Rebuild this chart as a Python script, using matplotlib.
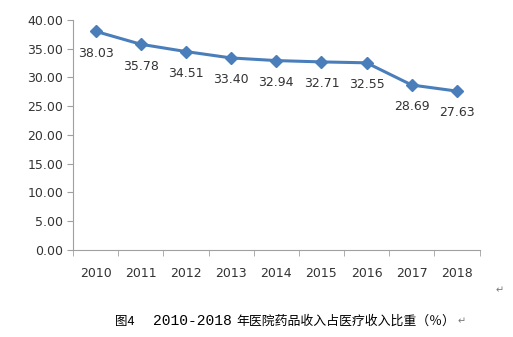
import matplotlib
matplotlib.use("Agg")
import matplotlib.pyplot as plt
from matplotlib.ticker import FixedLocator, NullFormatter

plt.rcParams['font.family'] = ['DejaVu Sans']

years = ["2010", "2011", "2012", "2013", "2014", "2015", "2016", "2017", "2018"]
ratio = [38.03, 35.78, 34.51, 33.40, 32.94, 32.71, 32.55, 28.69, 27.63]
y_ticks = [0, 5, 10, 15, 20, 25, 30, 35, 40]

W, H = 513, 337
fig = plt.figure(figsize=(W / 100, H / 100), dpi=100)
ax = fig.add_axes([0.1423, 0.2582, 0.7924, 0.6825])

x = list(range(len(years)))
ax.plot(x, ratio, color="#4A7EBB", linewidth=2.2, marker="D", markersize=6,
        markerfacecolor="#4A7EBB", markeredgecolor="#4A7EBB")
for xi, v in zip(x, ratio):
    ax.annotate(f"{v:.2f}", (xi, v), xytext=(0, -11), textcoords="offset points",
                ha="center", va="top", fontsize=9, color="#333333")

ax.set_xlim(-0.5, len(years) - 0.5)
ax.set_ylim(0, 40)
ax.set_yticks(y_ticks)
ax.set_yticklabels([f"{t:.2f}" for t in y_ticks], fontsize=9, color="#333333")
ax.set_xticks(x)
ax.set_xticklabels(years, fontsize=9, color="#333333")
ax.tick_params(axis="x", which="major", length=0, pad=12)
ax.xaxis.set_minor_locator(FixedLocator([i - 0.5 for i in range(len(years) + 1)]))
ax.xaxis.set_minor_formatter(NullFormatter())
ax.tick_params(axis="x", which="minor", length=4, color="#A0A0A0", direction="out")
ax.tick_params(axis="y", length=4, color="#A0A0A0", direction="out", pad=3)

for s in ["top", "right"]:
    ax.spines[s].set_visible(False)
for s in ["left", "bottom"]:
    ax.spines[s].set_color("#A0A0A0")
    ax.spines[s].set_linewidth(0.8)

cjk = ["Noto Sans CJK SC", "DejaVu Sans"]
cy = 1 - 321 / H
fig.text(500 / W, 1 - 290 / H, "↵", fontsize=7, color="#777777", ha="center", va="center")
fig.text(115 / W, cy, "图4", family=cjk, fontsize=9, color="black", ha="left", va="center")
fig.text(153 / W, cy, "2010-2018", family="Liberation Mono", fontsize=10.5,
         color="black", ha="left", va="center")
fig.text(236 / W, cy, "年医院药品收入占医疗收入比重（％）", family=cjk, fontsize=9.3,
         color="black", ha="left", va="center")
fig.text(462 / W, cy, "↵", fontsize=7, color="#777777", ha="center", va="center")

fig.savefig("out.png", dpi=100)
